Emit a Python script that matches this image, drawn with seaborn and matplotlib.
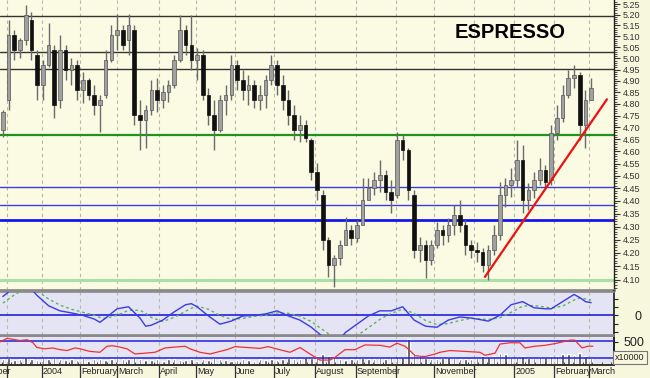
import numpy as np
import pandas as pd
import matplotlib
matplotlib.use("Agg")
import matplotlib.pyplot as plt
from matplotlib.ticker import FixedLocator, NullFormatter, FixedFormatter
import seaborn as sns

# ---------------- data ----------------
bar_day = np.arange(1.5, 312, 3)  # trading-day position of each (3-day) candle

opens = [4.689, 4.817, 5.106, 5.038, 5.083, 5.175, 5.015, 4.882, 4.971, 5.038,
         4.817, 5.038, 4.948, 4.971, 4.860, 4.904, 4.839, 4.795, 4.839, 4.993,
         5.106, 5.129, 5.083, 5.129, 4.753, 4.731, 4.774, 4.860, 4.817, 4.851,
         4.882, 4.993, 5.129, 5.060, 4.993, 5.015, 4.839, 4.753, 4.689, 4.817,
         4.839, 4.971, 4.904, 4.860, 4.882, 4.817, 4.839, 4.904, 4.971, 4.882,
         4.817, 4.753, 4.689, 4.710, 4.647, 4.516, 4.423, 4.249, 4.154, 4.181,
         4.230, 4.287, 4.257, 4.306, 4.404, 4.451, 4.483, 4.504, 4.435, 4.423,
         4.647, 4.606, 4.423, 4.211, 4.230, 4.173, 4.230, 4.287, 4.268, 4.306,
         4.345, 4.306, 4.230, 4.211, 4.203, 4.154, 4.211, 4.268, 4.423, 4.463,
         4.483, 4.565, 4.404, 4.443, 4.483, 4.524, 4.483, 4.676, 4.740, 4.839,
         4.913, 4.926, 4.710, 4.817]
highs = [4.774, 5.175, 5.129, 5.092, 5.245, 5.212, 5.038, 4.993, 5.161, 5.060,
         5.106, 5.060, 5.002, 4.993, 4.939, 4.913, 4.882, 4.839, 5.038, 5.152,
         5.203, 5.152, 5.203, 5.152, 4.817, 4.795, 4.904, 4.913, 4.882, 4.904,
         5.015, 5.198, 5.152, 5.198, 5.047, 5.038, 4.869, 4.817, 4.839, 4.882,
         5.015, 4.993, 4.948, 4.926, 4.904, 4.882, 4.926, 5.015, 4.993, 4.926,
         4.860, 4.795, 4.753, 4.731, 4.656, 4.552, 4.443, 4.260, 4.192, 4.249,
         4.337, 4.306, 4.325, 4.491, 4.491, 4.516, 4.565, 4.524, 4.483, 4.681,
         4.668, 4.614, 4.443, 4.260, 4.249, 4.249, 4.318, 4.306, 4.333, 4.384,
         4.404, 4.325, 4.249, 4.241, 4.218, 4.230, 4.306, 4.475, 4.491, 4.532,
         4.647, 4.626, 4.471, 4.516, 4.573, 4.544, 4.710, 4.795, 4.882, 4.948,
         4.971, 4.939, 4.860, 4.913]
lows = [4.660, 4.774, 4.993, 5.002, 5.060, 4.993, 4.817, 4.817, 4.962, 4.740,
        4.782, 4.904, 4.882, 4.817, 4.804, 4.817, 4.753, 4.681, 4.826, 4.984,
        5.038, 5.038, 5.015, 4.710, 4.606, 4.614, 4.753, 4.765, 4.782, 4.808,
        4.869, 4.984, 5.015, 4.948, 4.904, 4.817, 4.710, 4.606, 4.681, 4.753,
        4.817, 4.860, 4.817, 4.795, 4.782, 4.774, 4.782, 4.882, 4.839, 4.774,
        4.710, 4.647, 4.639, 4.639, 4.483, 4.404, 4.211, 4.110, 4.073, 4.154,
        4.230, 4.230, 4.241, 4.333, 4.404, 4.423, 4.435, 4.404, 4.353, 4.412,
        4.565, 4.404, 4.181, 4.166, 4.106, 4.154, 4.218, 4.230, 4.241, 4.268,
        4.279, 4.192, 4.181, 4.166, 4.128, 4.099, 4.192, 4.249, 4.376, 4.415,
        4.455, 4.353, 4.364, 4.412, 4.463, 4.455, 4.463, 4.647, 4.723, 4.826,
        4.869, 4.647, 4.614, 4.817]
closes = [4.765, 5.106, 5.038, 5.083, 5.198, 5.038, 4.882, 4.971, 5.060, 4.795,
          5.038, 4.948, 4.971, 4.860, 4.904, 4.839, 4.795, 4.817, 4.993, 5.106,
          5.129, 5.060, 5.152, 4.753, 4.731, 4.774, 4.860, 4.817, 4.851, 4.882,
          4.993, 5.129, 5.060, 4.993, 5.015, 4.839, 4.753, 4.689, 4.817, 4.839,
          4.971, 4.904, 4.860, 4.882, 4.817, 4.839, 4.904, 4.971, 4.882, 4.817,
          4.753, 4.689, 4.710, 4.656, 4.516, 4.443, 4.249, 4.154, 4.181, 4.230,
          4.287, 4.257, 4.306, 4.404, 4.451, 4.483, 4.504, 4.435, 4.404, 4.647,
          4.606, 4.443, 4.211, 4.230, 4.173, 4.230, 4.287, 4.268, 4.306, 4.345,
          4.306, 4.230, 4.211, 4.203, 4.154, 4.211, 4.268, 4.423, 4.463, 4.483,
          4.565, 4.404, 4.443, 4.483, 4.524, 4.475, 4.676, 4.740, 4.839, 4.913,
          4.926, 4.710, 4.817, 4.869]
volume = [130, 150, 100, 140, 170, 120, 110, 150, 130, 160, 120,
          100, 130, 110, 150, 90, 120, 140, 110, 130, 150,
          120, 140, 170, 130, 110, 100, 130, 90, 120, 140,
          110, 100, 130, 90, 120, 110, 150, 120, 100, 90,
          110, 130, 100, 90, 120, 110, 140, 100, 130, 150,
          120, 140, 170, 160, 200, 230, 190, 170, 130, 110,
          120, 140, 150, 130, 120, 160, 140, 180, 200, 170,
          560, 260, 220, 160, 140, 130, 150, 170, 160, 140,
          120, 130, 150, 200, 180, 190, 250, 230, 180, 170,
          190, 160, 150, 170, 180, 200, 190, 230, 240, 220,
          260, 200, 160]

# oscillator (blue) and its signal (green dashed)
osc_day = [1.5, 7.5, 13.5, 19.5, 25.5, 31.5, 37.5, 43.5, 49.5, 52.5, 55.5, 61.5,
           67.5, 73.5, 76.5, 79.5, 85.5, 91.5, 97.5, 100.5, 103.5, 109.5, 115.5,
           121.5, 127.5, 133.5, 139.5, 145.5, 151.5, 157.5, 163.5, 169.5, 175.5,
           181.5, 187.5, 193.5, 199.5, 205.5, 211.5, 217.5, 223.5, 229.5, 235.5,
           241.5, 247.5, 253.5, 256.5, 262.5, 268.5, 274.5, 280.5, 286.5, 289.5,
           295.5, 301.5, 304.5, 307.5, 310.5]
osc_val = [0.092, 0.137, 0.16, 0.097, 0.047, 0.022, 0.012, 0.0, -0.018, -0.034,
           -0.013, 0.032, 0.042, -0.013, -0.053, -0.048, -0.023, 0.017, 0.052,
           0.057, 0.042, -0.003, -0.043, -0.028, -0.003, 0.0, 0.007, 0.022,
           -0.003, -0.023, -0.058, -0.104, -0.15, -0.083, -0.043, -0.003, 0.022,
           0.022, 0.042, -0.023, -0.053, -0.058, -0.023, -0.008, -0.013, -0.023,
           -0.028, 0.0, 0.052, 0.067, 0.037, 0.032, 0.032, 0.067, 0.102, 0.087,
           0.067, 0.062]
sig_val = [0.06, 0.10, 0.13, 0.12, 0.08, 0.05, 0.03, 0.015, 0.0, -0.01, -0.015,
           0.0, 0.025, 0.025, 0.01, -0.01, -0.03, -0.01, 0.02, 0.035, 0.045, 0.03,
           0.0, -0.02, -0.015, -0.005, 0.0, 0.012, 0.01, -0.005, -0.03, -0.07,
           -0.11, -0.13, -0.1, -0.06, -0.02, 0.01, 0.03, 0.01, -0.025, -0.045,
           -0.04, -0.025, -0.015, -0.018, -0.02, -0.012, 0.015, 0.045, 0.048, 0.04,
           0.036, 0.045, 0.075, 0.085, 0.08, 0.075]

# RSI-like red line
rsi_day = [0, 3.7, 6.8, 10.5, 14.2, 17.3, 19.4, 23.6, 27.8, 31.5, 35.2, 39.4,
           42.0, 47.3, 52.5, 56.2, 59.3, 63.0, 66.7, 70.9, 76.2, 81.4, 86.7,
           91.9, 97.2, 99.8, 105.0, 110.3, 115.5, 119.2, 123.4, 129.7, 136.6,
           140.8, 146.0, 152.3, 157.6, 162.8, 168.1, 173.3, 175.9, 181.2, 186.4,
           191.7, 199.6, 204.8, 208.5, 212.7, 215.3, 218.0, 223.2, 228.5, 231.1,
           236.3, 244.2, 252.1, 254.7, 260.0, 262.6, 267.9, 273.1, 275.7, 281.0,
           286.2, 291.5, 299.4, 302.0, 303.6, 305.7, 308.8, 311.4]
rsi_val = [68, 76, 74, 71, 73, 66, 55, 52, 54, 50, 48, 54, 52, 46, 44, 58, 59,
           56, 52, 40, 42, 44, 54, 56, 58, 52, 44, 40, 46, 50, 57, 55, 53, 57,
           51, 44, 55, 40, 26, 26, 32, 50, 50, 61, 60, 56, 65, 58, 48, 36, 34,
           40, 44, 48, 46, 44, 37, 42, 63, 66, 66, 54, 58, 60, 64, 72, 72, 64,
           54, 58, 58]

# horizontal levels and trend line
black_levels = [5.194, 5.027, 4.951]
green_level = 4.667
blue_levels = [4.454, 4.384]
blue_main = 4.326
support_level = 4.10
trend_day = [254.7, 318.8]
trend_price = [4.11, 4.82]

price_ticks = [4.10, 4.15, 4.20, 4.25, 4.30, 4.35, 4.40, 4.45, 4.50, 4.55, 4.60,
               4.65, 4.70, 4.75, 4.80, 4.85, 4.90, 4.95, 5.00, 5.05, 5.10, 5.15,
               5.20, 5.25]
month_day = [-17, 3.5, 21.9, 42.0, 61.3, 83.5, 102.8, 123.5, 143.9, 165.4, 186.8,
             207.8, 228.1, 249.1, 270.1, 291.1, 309.5]
month_label = ['November', '', '2004', 'February', 'March', 'April', 'May', 'June',
               'July', 'August', 'September', '', 'November', '', '2005',
               'February', 'March']

# ---------------- style ----------------
sns.set_theme(style="white")
plt.rcParams['font.family'] = ['Liberation Sans', 'DejaVu Sans']

W, H = 650, 378
fig = plt.figure(figsize=(6.5, 3.78), dpi=100, facecolor='#f7f7de')

def rect(x0, y0, x1, y1):
    return [x0 / W, 1 - y1 / H, (x1 - x0) / W, (y1 - y0) / H]

ax = fig.add_axes(rect(0, 0, 614, 290))
ax2 = fig.add_axes(rect(0, 291.5, 614, 334.5), sharex=ax)
ax3 = fig.add_axes(rect(0, 336, 614, 365), sharex=ax)

XMIN, XMAX = 0, 322.5
main_bg = '#fbfbe3'
low_bg = '#e4e4f5'
grid_col = '#b8b8a8'

# ---- main price panel ----
ax.set_facecolor(main_bg)
ax.set_yscale('log')
ax.set_xlim(XMIN, XMAX)
ax.set_ylim(4.062, 5.269)

for d in month_day:
    for a in (ax, ax2, ax3):
        a.axvline(d, color=grid_col, lw=0.8, ls=(0, (3, 3)), zorder=1)

for lv in black_levels:
    ax.axhline(lv, color='#333333', lw=1.0, zorder=2)
ax.axhline(green_level, color='#1c951c', lw=1.6, zorder=2)
for lv in blue_levels:
    ax.axhline(lv, color='#3a3ae6', lw=1.0, zorder=2)
ax.axhline(blue_main, color='#1515ee', lw=2.0, zorder=2)
ax.axhline(support_level, color='#a8e0a8', lw=2.2, zorder=2)

df = pd.DataFrame(dict(day=bar_day, open=opens, high=highs, low=lows,
                       close=closes, vol=volume))
up = df.close >= df.open
ax.vlines(df.day, df.low, df.high, color='#6a6a6a', lw=1.0, zorder=3)
ax.bar(df.day[up], (df.close - df.open)[up], bottom=df.open[up], width=1.9,
       color='#a0a0a0', edgecolor='#555555', lw=0.5, zorder=4)
ax.bar(df.day[~up], (df.open - df.close)[~up], bottom=df.close[~up], width=1.9,
       color='#111111', edgecolor='#111111', lw=0.5, zorder=4)

sns.lineplot(x=trend_day, y=trend_price, ax=ax, color='#f01010', lw=1.6,
             zorder=5, legend=False)

ax.text(510 / 614, 1 - 32 / 290, 'ESPRESSO', transform=ax.transAxes,
        ha='center', va='center', fontsize=14.5, fontweight='bold',
        color='black')

ax.yaxis.tick_right()
ax.yaxis.set_major_locator(FixedLocator(price_ticks))
ax.yaxis.set_major_formatter(FixedFormatter([f'{t:.2f}' for t in price_ticks]))
ax.yaxis.set_minor_locator(FixedLocator(np.round(np.arange(4.07, 5.27, 0.01), 2)))
ax.yaxis.set_minor_formatter(NullFormatter())
ax.tick_params(axis='y', which='major', right=True, left=False, length=4,
               width=0.8, pad=2, labelsize=6.5, colors='#333333')
ax.tick_params(axis='y', which='minor', right=True, left=False, length=2,
               width=0.6, colors='#333333')
ax.tick_params(axis='x', which='both', bottom=False, labelbottom=False)
for s in ('left', 'top'):
    ax.spines[s].set_visible(False)
ax.spines['right'].set_color('#222222')
ax.spines['right'].set_linewidth(1.0)
ax.spines['bottom'].set_color('#8a8a8a')
ax.spines['bottom'].set_linewidth(2.0)

# ---- oscillator panel ----
ax2.set_facecolor(low_bg)
ax2.set_ylim(-0.0935, 0.1165)
ax2.axhline(0, color='#2020e0', lw=1.2, zorder=2)
sns.lineplot(x=osc_day, y=sig_val, ax=ax2, color='#5fb35f', lw=1.0,
             linestyle=(0, (2, 2)), zorder=3, legend=False)
sns.lineplot(x=osc_day, y=osc_val, ax=ax2, color='#3b3be8', lw=1.0,
             zorder=4, legend=False)
ax2.yaxis.tick_right()
ax2.set_yticks([-0.08, -0.04, 0, 0.04, 0.08])
ax2.set_yticklabels(['', '', '0', '', ''])
ax2.tick_params(axis='y', right=True, left=False, length=3, width=0.8, pad=12,
                labelsize=9, colors='#222222')
ax2.tick_params(axis='x', which='both', bottom=False, labelbottom=False)
ax2.spines['left'].set_visible(False)
for s in ('top', 'bottom'):
    ax2.spines[s].set_color('#8a8a8a')
    ax2.spines[s].set_linewidth(1.2)
ax2.spines['right'].set_color('#222222')
ax2.set_xlabel('')
ax2.set_ylabel('')

# ---- RSI + volume panel ----
ax3.set_facecolor(low_bg)
ax3.set_ylim(14.6, 81.6)
axv = ax3.twinx()
axv.set_ylim(0, 630)
axv.bar(df.day, df.vol, width=1.3, color='#4a4a4a', zorder=2)
ax3.axhline(70, color='#2020e0', lw=1.1, zorder=3)
ax3.axhline(30, color='#2020e0', lw=1.1, zorder=3)
sns.lineplot(x=rsi_day, y=rsi_val, ax=ax3, color='#f03030', lw=0.9,
             zorder=4, legend=False)
ax3.set_zorder(axv.get_zorder() + 1)
ax3.patch.set_visible(False)
axv.patch.set_visible(True)
axv.patch.set_facecolor(low_bg)
ax3.set_yticks([])
ax3.set_ylabel('')
axv.set_yticks([500])
axv.set_yticklabels(['500'])
axv.tick_params(axis='y', right=True, length=3, width=0.8, pad=4, labelsize=9,
                colors='#222222')
for a in (ax3, axv):
    a.spines['left'].set_visible(False)
    a.spines['top'].set_color('#8a8a8a')
    a.spines['top'].set_linewidth(1.2)
    a.spines['bottom'].set_color('#333333')
    a.spines['right'].set_color('#222222')

ax3.set_xticks([d for d in month_day if d >= XMIN])
ax3.set_xticklabels([])
ax3.set_xticks(np.arange(1, 322, 5), minor=True)
ax3.tick_params(axis='x', which='major', bottom=True, direction='out',
                length=9.5, width=0.9, color='#333333')
ax3.tick_params(axis='x', which='minor', bottom=True, direction='in',
                length=2, width=0.6, color='#333333')
ax3.set_xlim(XMIN, XMAX)
ax3.set_xlabel('')

for d, lab in zip(month_day, month_label):
    if lab:
        ax3.text(d + 0.6, -0.08, lab, transform=ax3.get_xaxis_transform(),
                 ha='left', va='top', fontsize=6.5, color='#222222', clip_on=False)

fig.text(615 / W, 1 - 357.5 / H, 'x10000', ha='left', va='center', fontsize=6.5,
         color='#222222',
         bbox=dict(boxstyle='square,pad=0.25', facecolor='#f7f7de',
                   edgecolor='#777777', lw=0.8))

fig.savefig('out.png', dpi=100, facecolor=fig.get_facecolor())
